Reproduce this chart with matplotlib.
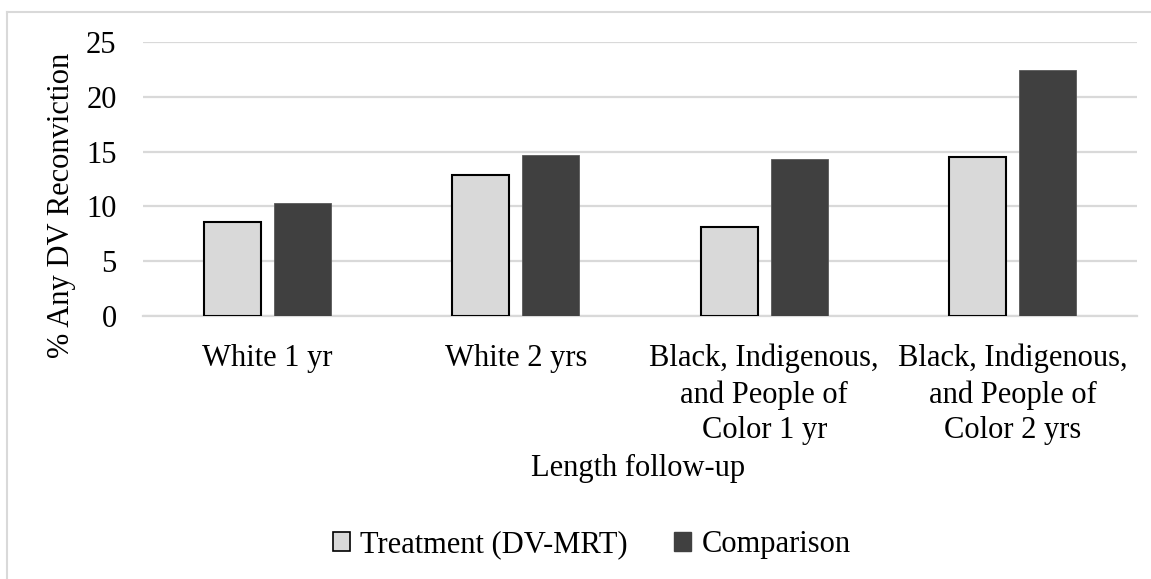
import matplotlib.pyplot as plt
import numpy as np
from matplotlib.lines import Line2D
from matplotlib.patches import Patch

plt.rcParams['font.family'] = ['Liberation Serif', 'DejaVu Serif']

categories = ["White 1 yr", "White 2 yrs",
              "Black, Indigenous,\nand People of\nColor 1 yr",
              "Black, Indigenous,\nand People of\nColor 2 yrs"]
treatment = [8.6, 12.9, 8.1, 14.5]
comparison = [10.3, 14.7, 14.3, 22.4]
yticks = [0, 5, 10, 15, 20, 25]

light = "#d9d9d9"
dark = "#404040"
grid = "#d9d9d9"
fs = 22

fig = plt.figure(figsize=(11.51, 5.79), dpi=100)
ax = fig.add_axes([0.1242, 0.4542, 0.8636, 0.4733])

x = np.arange(len(categories))
w = 0.229
off = 0.141
ax.bar(x - off, treatment, w, color=light, edgecolor="black", linewidth=1.5, zorder=3)
ax.bar(x + off, comparison, w, color=dark, edgecolor="#595959", linewidth=0.6, zorder=3)

ax.set_xlim(-0.5, len(categories) - 0.5)
ax.set_ylim(0, 25)
ax.set_yticks(yticks)
ax.set_yticklabels([str(v) for v in yticks], fontsize=fs)
ax.set_xticks(x)
ax.set_xticklabels(categories, fontsize=fs, linespacing=1.3, va="top")
ax.tick_params(axis="both", length=0)
ax.tick_params(axis="y", pad=19)
ax.tick_params(axis="x", pad=20)

ax.grid(axis="y", color=grid, linewidth=1.6, zorder=0)
for s in ["top", "right", "left"]:
    ax.spines[s].set_visible(False)
ax.spines["bottom"].set_color(grid)
ax.spines["bottom"].set_linewidth(1.6)

fig.text(0.053, 0.646, "% Any DV Reconviction", fontsize=fs, rotation=90,
         ha="center", va="center")
fig.text(0.554, 0.19, "Length follow-up", fontsize=fs, ha="center", va="center")

handles = [Patch(facecolor=light, edgecolor="black", linewidth=1.2, label="Treatment (DV-MRT)"),
           Patch(facecolor=dark, edgecolor=dark, label="Comparison")]
fig.legend(handles=handles, loc="center", bbox_to_anchor=(0.514, 0.059), ncol=2,
           frameon=False, fontsize=fs, handlelength=0.55, handleheight=0.55,
           handletextpad=0.35, columnspacing=1.5)

# chart-area border (top and left edges)
fig.add_artist(Line2D([0.0065, 0.0065], [0, 0.98], color=grid, linewidth=1.5, transform=fig.transFigure))
fig.add_artist(Line2D([0.0065, 1], [0.98, 0.98], color=grid, linewidth=1.5, transform=fig.transFigure))

fig.savefig("out.png", dpi=100)
